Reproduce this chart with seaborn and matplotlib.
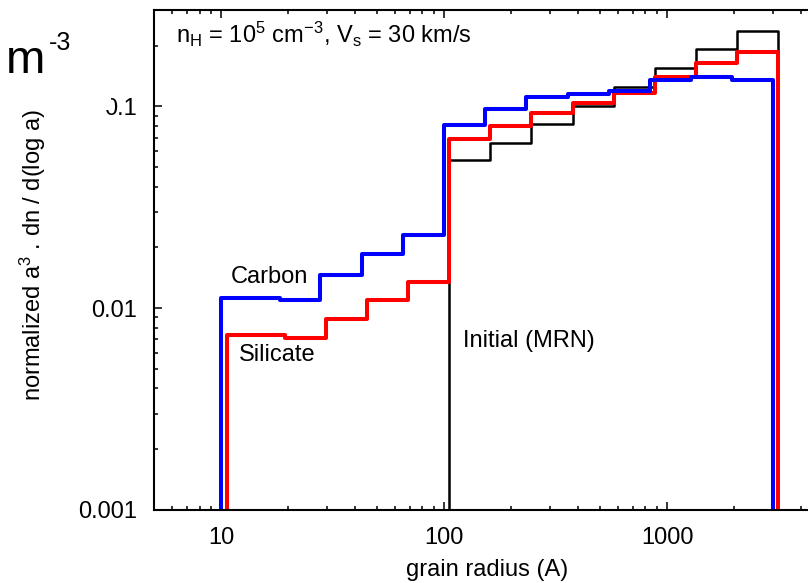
import numpy as np
import pandas as pd
import matplotlib
matplotlib.use("Agg")
import matplotlib.pyplot as plt
import seaborn as sns
from matplotlib.ticker import LogLocator, FixedLocator, FuncFormatter, NullFormatter
from matplotlib.patches import Rectangle

# ---- data (bin edges in Angstrom, values) ----
carbon_edges = [10, 18.3, 27.9, 42.7, 65.4, 100, 153, 234, 358, 548, 838, 1282, 1961, 3000]
carbon_values = [0.0112, 0.0110, 0.0146, 0.0186, 0.0231, 0.0804, 0.0966, 0.111,
                 0.1147, 0.1188, 0.1345, 0.1393, 0.1345]
silicate_edges = [10.6, 19.3, 29.4, 45.0, 68.9, 105.3, 161, 246, 377, 577, 883, 1350, 2065, 3150]
silicate_values = [0.00734, 0.0071, 0.00881, 0.01097, 0.01346, 0.0686, 0.0795, 0.0923,
                   0.1035, 0.117, 0.139, 0.1637, 0.186]
initial_edges = [105.3, 161, 246, 377, 577, 883, 1350, 2065, 3150]
initial_values = [0.0539, 0.0655, 0.0813, 0.100, 0.1245, 0.1545, 0.192, 0.236]

x_ticks = [10, 100, 1000]
y_ticks = [0.001, 0.01, 0.1]

sns.set_style("white")
plt.rcParams["font.family"] = ["Liberation Sans", "DejaVu Sans"]
plt.rcParams["mathtext.fontset"] = "custom"
plt.rcParams["mathtext.rm"] = "Liberation Sans"
plt.rcParams["mathtext.it"] = "Liberation Sans"
plt.rcParams["text.color"] = "black"
plt.rcParams["axes.labelcolor"] = "black"
plt.rcParams["xtick.color"] = "black"
plt.rcParams["ytick.color"] = "black"

W, H = 808, 583
fig = plt.figure(figsize=(W / 100, H / 100), dpi=100)
# axes extends beyond the right edge of the canvas (cropped figure)
ax = fig.add_axes([154 / W, (H - 510) / H, (890 - 154) / W, 500 / H])


def step_frame(edges, values, floor=1e-6):
    x = [edges[0]] + list(edges) + [edges[-1]]
    y = [floor] + list(values) + [values[-1], floor]
    return pd.DataFrame({"x": x, "y": y})


for edges, values, color, lw in [
    (initial_edges, initial_values, "black", 1.8),
    (silicate_edges, silicate_values, "#ff0000", 2.9),
    (carbon_edges, carbon_values, "#0000ff", 2.9),
]:
    df = step_frame(edges, values)
    sns.lineplot(data=df, x="x", y="y", ax=ax, estimator=None, sort=False,
                 drawstyle="steps-post", color=color, linewidth=lw)

ax.set_xscale("log")
ax.set_yscale("log")
ax.set_xlim(5, 10000)
ax.set_ylim(0.001, 0.3)

ax.xaxis.set_major_locator(FixedLocator(x_ticks))
ax.xaxis.set_minor_locator(LogLocator(base=10, subs=np.arange(2, 10), numticks=100))
ax.yaxis.set_major_locator(FixedLocator(y_ticks))
ax.yaxis.set_minor_locator(LogLocator(base=10, subs=np.arange(2, 10), numticks=100))
ax.xaxis.set_major_formatter(FuncFormatter(lambda v, p: f"{v:g}"))
ax.yaxis.set_major_formatter(FuncFormatter(lambda v, p: f"{v:g}"))
ax.xaxis.set_minor_formatter(NullFormatter())
ax.yaxis.set_minor_formatter(NullFormatter())

ax.tick_params(which="both", direction="in", top=True, right=True, bottom=True, left=True,
               width=1.1, colors="black", labelsize=17, pad=12)
ax.tick_params(which="major", length=5.5)
ax.tick_params(which="minor", length=2.8)
for s in ax.spines.values():
    s.set_linewidth(1.5)
    s.set_color("black")
ax.set_xlabel("")
ax.set_ylabel("")

# annotations
ax.text(6.28, 0.2056,
        r"n$_\mathregular{H}$ = 10$^\mathregular{5}$ cm$^{\mathregular{-3}}$, V$_\mathregular{s}$ = 30 km/s",
        fontsize=17, ha="left", va="baseline")
ax.text(11.09, 0.0133, "Carbon", fontsize=17, ha="left", va="baseline")
ax.text(12.05, 0.00545, "Silicate", fontsize=17, ha="left", va="baseline")
ax.text(121.6, 0.0064, "Initial (MRN)", fontsize=17, ha="left", va="baseline")

# axis labels
fig.text(487 / W, 1 - 570 / H, "grain radius (A)", fontsize=17, ha="center", va="center")
fig.text(33 / W, 1 - 255 / H, r"normalized a$^\mathregular{3}$ . dn / d(log a)",
         fontsize=17, ha="center", va="center", rotation=90)

# fragment of a neighbouring panel's text (cropped in the reference)
fig.add_artist(Rectangle((60 / W, 1 - 110 / H), 50.5 / W, 30 / H, transform=fig.transFigure,
                         facecolor="white", edgecolor="none", zorder=10))
fig.text(45 / W, 1 - 73 / H, "m", fontsize=34, ha="right", va="baseline", zorder=11)
fig.text(49 / W, 1 - 50 / H, "-3", fontsize=18, ha="left", va="baseline", zorder=11)

fig.savefig("out.png", dpi=100)
